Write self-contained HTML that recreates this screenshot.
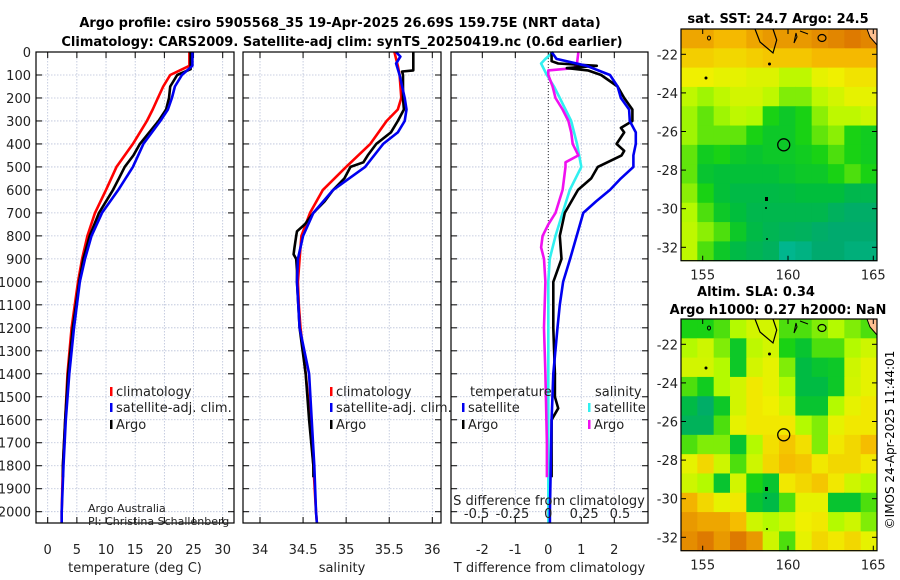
<!DOCTYPE html>
<html><head><meta charset="utf-8"><style>
body{margin:0;background:#fff}
svg{display:block;font-family:"DejaVu Sans","Liberation Sans",sans-serif}
</style></head><body>
<svg id="fig" width="900" height="580" viewBox="0 0 900 580" xmlns="http://www.w3.org/2000/svg">
<text x="340" y="27" text-anchor="middle" font-weight="bold" font-size="13">Argo profile: csiro 5905568_35 19-Apr-2025 26.69S 159.75E (NRT data)</text>
<text x="342" y="46" text-anchor="middle" font-weight="bold" font-size="13">Climatology: CARS2009. Satellite-adj clim: synTS_20250419.nc (0.6d earlier)</text>
<text x="778" y="23" text-anchor="middle" font-weight="bold" font-size="13">sat. SST: 24.7 Argo: 24.5</text>
<text x="756" y="296" text-anchor="middle" font-weight="bold" font-size="13">Altim. SLA: 0.34</text>
<text x="778" y="314" text-anchor="middle" font-weight="bold" font-size="13">Argo h1000: 0.27 h2000: NaN</text>
<text transform="translate(894,440) rotate(-90)" text-anchor="middle" font-size="12">©IMOS 24-Apr-2025 11:44:01</text>
<g id="g"></g>
</svg>
<script>
// ---- profile data (depth in m) ----
const tDepth   = [0,60,100,150,200,250,300,400,500,600,700,800,900,1000,1200,1400,1600,1800,2000,2050];
const tClim    = [24.3,24.3,21,19.8,18.9,18,17,14.6,11.8,10,8.1,6.8,5.9,5.2,4.1,3.4,3.0,2.6,2.4,2.4];
const tSat     = [24.8,24.8,23,21.8,21.3,20.6,19.3,16.4,14.6,12.1,9.3,7.5,6.4,5.5,4.5,3.7,3.1,2.7,2.4,2.4];
const argoTDepth = [0,75,100,150,200,250,300,400,450,500,550,600,700,800,900,1000,1200,1400,1600,1800,1850];
const tArgo    = [24.5,24.5,22.2,21,20.8,20.3,19,15.8,14.7,13.2,12.2,11.2,8.8,7.2,6.1,5.4,4.3,3.5,3.0,2.6,2.6];
const sDepth   = [0,60,100,200,250,300,400,500,600,700,800,900,1000,1100,1200,1400,1600,1800,2000,2050];
const sClim    = [35.56,35.6,35.62,35.64,35.6,35.47,35.28,35.0,34.73,34.58,34.48,34.46,34.44,34.45,34.47,34.53,34.58,34.62,34.65,34.66];
const sSatDepth= [0,20,50,100,200,250,300,350,400,500,600,700,800,900,1000,1200,1400,1600,1800,2000,2050];
const sSat     = [35.58,35.63,35.58,35.62,35.68,35.7,35.68,35.6,35.43,35.22,34.85,34.62,34.5,34.44,34.43,34.46,34.57,34.6,34.63,34.65,34.66];
const argoSDepth=[0,80,85,100,200,250,300,350,400,450,480,500,550,600,650,700,750,780,800,850,880,900,950,1000,1200,1400,1600,1800,1850];
const sArgo    = [35.78,35.78,35.65,35.66,35.66,35.67,35.6,35.52,35.35,35.25,35.2,35.05,34.98,34.85,34.75,34.62,34.52,34.43,34.42,34.4,34.39,34.42,34.43,34.43,34.46,34.53,34.57,34.62,34.62];
// ---- difference data ----
const dTSatDepth=[0,30,60,100,150,200,250,300,350,400,450,500,550,600,650,700,800,900,1000,1100,1200,1400,1600,2000,2050];
const dTSat    = [0.1,0.25,1.16,1.87,2.1,2.2,2.45,2.47,2.65,2.65,2.58,2.58,2.2,1.87,1.45,1.06,0.86,0.66,0.45,0.35,0.28,0.15,0.1,0.05,0.05];
const dTArgoDepth=[0,40,50,60,70,80,100,150,200,250,300,330,350,400,430,450,500,550,600,700,800,900,1000,1200,1400,1500,1550,1600,1850];
const dTArgo   = [0.1,0.1,0.3,1.47,0.56,1.2,1.6,2.1,2.3,2.55,2.55,2.2,2.3,2.07,2.3,2.22,1.5,1.3,0.9,0.5,0.35,0.4,0.15,0.15,0.2,0.2,0.3,0.1,0.1];
const dSSatDepth=[0,30,50,100,150,200,300,400,500,600,700,800,900,1000,1500,2050];
const dSSat    = [0.035,-0.02,-0.05,-0.01,0.04,0.08,0.16,0.2,0.23,0.15,0.1,0.05,0.01,0.0,0.0,0.0];
const dSArgoDepth=[0,50,70,80,100,150,200,250,300,350,400,450,480,500,600,700,750,800,850,900,1000,1200,1400,1700,1850];
const dSArgo   = [0.21,0.2,0.18,0.0,0.0,0.03,0.05,0.1,0.14,0.16,0.17,0.21,0.12,0.12,0.1,0.05,0.0,-0.04,-0.05,-0.03,-0.02,-0.03,-0.02,-0.01,-0.01];
// ---- map data (12 cols lon 153.7-165.2, 12 rows lat -20.7 to -32.7), normalized colour value ----
const sstGrid = [
[.88,.88,.85,.85,.88,.9,.9,.9,.92,.93,.95,.93],
[.8,.8,.78,.78,.8,.82,.82,.82,.85,.85,.85,.85],
[.72,.72,.7,.7,.68,.68,.62,.62,.7,.72,.75,.75],
[.62,.58,.62,.66,.66,.62,.55,.55,.62,.66,.7,.7],
[.58,.52,.58,.62,.6,.45,.4,.45,.56,.62,.62,.65],
[.58,.52,.52,.52,.45,.4,.4,.45,.52,.56,.45,.42],
[.52,.42,.45,.4,.38,.4,.4,.42,.45,.5,.45,.42],
[.52,.38,.36,.36,.36,.36,.38,.4,.4,.45,.5,.45],
[.56,.45,.36,.32,.32,.32,.33,.35,.35,.35,.3,.3],
[.6,.5,.4,.35,.3,.3,.3,.3,.3,.25,.22,.22],
[.62,.56,.5,.4,.32,.28,.26,.25,.22,.2,.2,.2],
[.62,.5,.4,.32,.28,.25,.12,.15,.2,.2,.17,.17]];
const slaGrid = [
[.45,.45,.5,.6,.66,.66,.5,.5,.55,.6,.55,.5],
[.6,.65,.55,.4,.62,.66,.45,.38,.5,.5,.6,.65],
[.66,.66,.6,.4,.66,.7,.55,.33,.38,.4,.65,.7],
[.5,.42,.6,.66,.74,.7,.6,.33,.33,.4,.66,.7],
[.32,.22,.4,.66,.74,.72,.66,.38,.38,.6,.7,.74],
[.26,.26,.5,.7,.74,.74,.74,.6,.55,.7,.74,.74],
[.5,.55,.55,.38,.6,.76,.82,.76,.55,.74,.78,.84],
[.7,.78,.65,.5,.65,.78,.84,.82,.74,.78,.78,.74],
[.65,.6,.38,.66,.45,.38,.74,.78,.82,.74,.65,.6],
[.86,.78,.7,.74,.38,.32,.5,.7,.7,.38,.38,.5],
[.9,.88,.88,.84,.65,.6,.65,.72,.74,.6,.65,.55],
[.92,.95,.9,.95,.9,.65,.5,.7,.78,.74,.78,.7]];
const depthTicks=[0,100,200,300,400,500,600,700,800,900,1000,1100,1200,1300,1400,1500,1600,1700,1800,1900,2000];
const tTicks=[0,5,10,15,20,25,30];
const sTicks=[34,34.5,35,35.5,36];
const dTTicks=[-2,-1,0,1,2];
const dSTicks=[-0.5,-0.25,0,0.25,0.5];
const dSTickLabels=['-0.5','-0.25','0','0.25','0.5'];
const lonTicks=[155,160,165];
const latTicks=[-22,-24,-26,-28,-30,-32];
const argoPos=[159.75,-26.69];

const NS='http://www.w3.org/2000/svg';
const G=document.getElementById('g');
function el(tag,at,parent){const e=document.createElementNS(NS,tag);for(const k in at)e.setAttribute(k,at[k]);(parent||G).appendChild(e);return e;}
const TOP=52,BOT=523,yD=d=>TOP+d*0.22985;
function lin(d0,d1,r0,r1){return v=>r0+(v-d0)*(r1-r0)/(d1-d0);}
const panels=[
 {name:'temperature',x0:36,x1:234,sx:lin(0,30,47.7,222.7),ticks:tTicks,lab:tTicks.map(String),title:'temperature (deg C)'},
 {name:'salinity',x0:243,x1:441,sx:lin(34,36,260,432.3),ticks:sTicks,lab:sTicks.map(String),title:'salinity'},
 {name:'difference',x0:451,x1:648,sx:lin(0,2,548.3,614.3),ticks:dTTicks,lab:dTTicks.map(String),title:'T difference from climatology'}];
const sDiffX=lin(0,0.5,548.3,620);
panels.forEach((p,i)=>{
  const ax=el('g',{});
  
  
  depthTicks.forEach(d=>{el('line',{x1:p.x0,x2:p.x1,y1:yD(d),y2:yD(d),stroke:'#b8c0d8','stroke-width':0.8,'stroke-dasharray':'1.5,1.5'},ax);
    el('line',{x1:p.x0,x2:p.x0+6,y1:yD(d),y2:yD(d),stroke:'#000'},ax);el('line',{x1:p.x1-6,x2:p.x1,y1:yD(d),y2:yD(d),stroke:'#000'},ax);});
  p.ticks.forEach((t,j)=>{const x=p.sx(t);
    el('line',{x1:x,x2:x,y1:TOP,y2:BOT,stroke:'#b8c0d8','stroke-width':0.8,'stroke-dasharray':'1.5,1.5'},ax);
    el('line',{x1:x,x2:x,y1:BOT-6,y2:BOT,stroke:'#000'},ax);el('line',{x1:x,x2:x,y1:TOP,y2:TOP+6,stroke:'#000'},ax);
    const tx=el('text',{x:x,y:554,'text-anchor':'middle','font-size':13,fill:'#222'},ax);tx.textContent=p.lab[j];
    
    });
  const tt=el('text',{x:(p.x0+p.x1)/2,y:572,'text-anchor':'middle','font-size':13,fill:'#222'},ax);tt.textContent=p.title;
  
  
  if(i===0) depthTicks.forEach(d=>{const t=el('text',{x:31,y:yD(d)+5,'text-anchor':'end','font-size':13,fill:'#222'},ax);t.textContent=d;
    
    });
  p.ax=ax;
});
const P3=panels[2];
el('line',{x1:548.3,x2:548.3,y1:TOP,y2:BOT,stroke:'#333','stroke-dasharray':'1,2'},P3.ax);
function line(depths,vals,sx,color,name,w){
  const d=depths.map((dd,k)=>(k?'L':'M')+sx(vals[k]).toFixed(1)+','+yD(dd).toFixed(1)).join('');
  const p=el('path',{d:d,fill:'none',stroke:color,'stroke-width':w||2.6,'stroke-linejoin':'round'});
  
  
}
line(tDepth,tClim,panels[0].sx,'#f00','temp-climatology-line');
line(argoTDepth,tArgo,panels[0].sx,'#000','temp-argo-line');
line(tDepth,tSat,panels[0].sx,'#0000f0','temp-satellite-line');
line(sDepth,sClim,panels[1].sx,'#f00','sal-climatology-line');
line(argoSDepth,sArgo,panels[1].sx,'#000','sal-argo-line');
line(sSatDepth,sSat,panels[1].sx,'#0000f0','sal-satellite-line');
line(dSSatDepth,dSSat,sDiffX,'#30f0f0','sdiff-satellite-line');
line(dSArgoDepth,dSArgo,sDiffX,'#f010f0','sdiff-argo-line');
line(dTArgoDepth,dTArgo,P3.sx,'#000','tdiff-argo-line');
line(dTSatDepth,dTSat,P3.sx,'#0000f0','tdiff-satellite-line');
dSTicks.forEach((t,j)=>{const tx=el('text',{x:sDiffX(t),y:518,'text-anchor':'middle','font-size':13,fill:'#222'});tx.textContent=dSTickLabels[j];
  
  });
const st=el('text',{x:549,y:505,'text-anchor':'middle','font-size':13,fill:'#222'});st.textContent='S difference from climatology';


panels.forEach(p=>el('rect',{x:p.x0,y:TOP,width:p.x1-p.x0,height:BOT-TOP,fill:'none',stroke:'#000','stroke-width':1.2}));
function legend(x,y,color,label,name){
  const g=el('g',{});
  
  
  el('rect',{x:x,y:y-9,width:2.5,height:9,fill:color},g);
  const t=el('text',{x:x+6,y:y,'font-size':13,fill:'#222'},g);t.textContent=label;
}
legend(110,396,'#f00','climatology','legend-climatology');
legend(110,412,'#0000f0','satellite-adj. clim.','legend-satellite');
legend(110,429,'#000','Argo','legend-argo');
legend(330,396,'#f00','climatology','legend-climatology-2');
legend(330,412,'#0000f0','satellite-adj. clim.','legend-satellite-2');
legend(330,429,'#000','Argo','legend-argo-2');
const lt=el('text',{x:470,y:396,'font-size':13,fill:'#222'});lt.textContent='temperature';


const ls=el('text',{x:595,y:396,'font-size':13,fill:'#222'});ls.textContent='salinity';


legend(462,412,'#0000f0','satellite','legend-tdiff-satellite');
legend(462,429,'#000','Argo','legend-tdiff-argo');
legend(588,412,'#30f0f0','satellite','legend-sdiff-satellite');
legend(588,429,'#f010f0','Argo','legend-sdiff-argo');
const a1=el('text',{x:88,y:512,'font-size':11,fill:'#222'});a1.textContent='Argo Australia';


const a2=el('text',{x:88,y:525,'font-size':11,fill:'#222'});a2.textContent='PI: Christina Schallenberg';


// ---- maps ----
const stops=[[0,[0,200,190]],[0.2,[0,170,110]],[0.35,[0,190,60]],[0.45,[25,210,20]],[0.6,[180,250,0]],[0.72,[240,240,0]],[0.85,[245,185,0]],[1,[210,90,0]]];
function cmap(v){for(let i=1;i<stops.length;i++){if(v<=stops[i][0]){const a=stops[i-1],b=stops[i],f=(v-a[0])/(b[0]-a[0]);return 'rgb('+a[1].map((c,k)=>Math.round(c+(b[1][k]-c)*f)).join(',')+')';}}return 'rgb(210,90,0)';}
function drawMap(grid,top,name){
  const L=681,R=877,H=231.7,B=top+H;
  const lx=lin(155,165,702.7,873.3), ly=lin(-22,-32,top+25.3,top+218.3);
  const g=el('g',{});
  
  
  const nr=grid.length,nc=grid[0].length,cw=(R-L)/nc,ch=H/nr;
  grid.forEach((row,r)=>row.forEach((v,c)=>{const cell=el('rect',{x:L+c*cw,y:top+r*ch,width:cw+0.5,height:ch+0.5,fill:cmap(v)},g);
    
    }));
  el('path',{d:`M867,${top} L877,${top} L877,${top+16} L870,${top+8}Z`,fill:'#ffc090',stroke:'#000','stroke-width':1},g);
  el('path',{d:`M755,${top} L760,${top+13} L773,${top+24} L776.7,${top+11} L773,${top}`,fill:'none',stroke:'#000','stroke-width':1.2},g);
  el('path',{d:`M796,${top+4} L794,${top+14} L797,${top+8}Z M800,${top+2} L808,${top+5}`,fill:'none',stroke:'#000','stroke-width':1},g);
  el('ellipse',{cx:822,cy:top+9,rx:4,ry:3.5,fill:'none',stroke:'#000','stroke-width':1.2},g);
  el('ellipse',{cx:709,cy:top+9,rx:1.5,ry:2,fill:'none',stroke:'#000'},g);
  el('circle',{cx:769.5,cy:top+35,r:1.5,fill:'#000'},g);
  el('circle',{cx:706,cy:top+49,r:1.5,fill:'#000'},g);
  el('rect',{x:765,y:top+168,width:3,height:4,fill:'#000'},g);
  el('circle',{cx:766,cy:top+179,r:1,fill:'#000'},g);
  el('circle',{cx:767,cy:top+210,r:1,fill:'#000'},g);
  const m=el('circle',{cx:lx(argoPos[0]),cy:ly(argoPos[1]),r:6,fill:'none',stroke:'#000','stroke-width':1.3},g);
  
  
  el('rect',{x:L,y:top,width:R-L,height:H,fill:'none',stroke:'#000','stroke-width':1.2},g);
  lonTicks.forEach(t=>{const x=lx(t);el('line',{x1:x,x2:x,y1:B,y2:B-5,stroke:'#000'},g);el('line',{x1:x,x2:x,y1:top,y2:top+5,stroke:'#000'},g);
    const tx=el('text',{x:x,y:B+19,'text-anchor':'middle','font-size':13,fill:'#222'},g);tx.textContent=t;
    
    });
  latTicks.forEach(t=>{const y=ly(t);el('line',{x1:L,x2:L+5,y1:y,y2:y,stroke:'#000'},g);el('line',{x1:R-5,x2:R,y1:y,y2:y,stroke:'#000'},g);
    const tx=el('text',{x:L-3,y:y+5,'text-anchor':'end','font-size':13,fill:'#222'},g);tx.textContent=t;
    
    });
}
drawMap(sstGrid,29,'sst-map');
drawMap(slaGrid,319,'sla-map');
</script>
</body></html>
